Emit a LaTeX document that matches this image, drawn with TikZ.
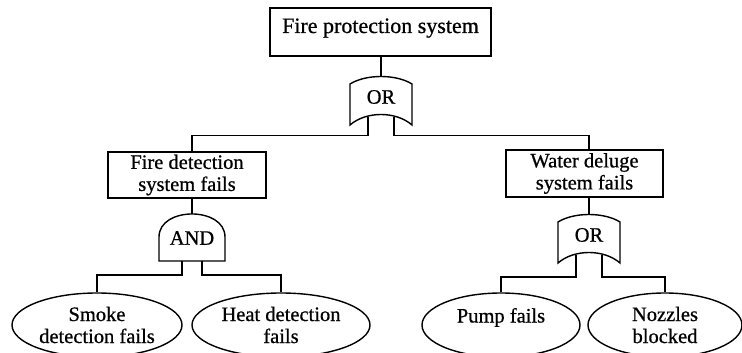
\documentclass[tikz,border=0pt]{standalone}
\usepackage{fontspec}
\setmainfont{Liberation Serif}[FakeBold=0.7]
\usetikzlibrary{shapes.geometric}

\begin{document}
\begin{tikzpicture}[x=1pt,y=-1pt,line width=1.4pt,
  every node/.style={font=\fontsize{20.5}{22}\selectfont},
  box/.style={draw,rectangle,align=center,inner sep=0pt},
  event/.style={draw,ellipse,align=center,inner sep=0pt,minimum height=64pt},
  pics/orgate/.style={code={
    \draw (-31,8) .. controls (-15,-2) and (15,-2) .. (31,8) -- (31,49)
      .. controls (15,35) and (-15,35) .. (-31,49) -- cycle;
    \node (-txt) at (0,21) {OR};
    \coordinate (-in) at (0,0);
    \coordinate (-l) at (-13,40.5);
    \coordinate (-r) at (13,40.5);
  }},
  pics/andgate/.style={code={
    \draw (-33,47) -- (-33,23) .. controls (-33,-7.7) and (33,-7.7) .. (33,23)
      -- (33,47) -- cycle;
    \node (-txt) at (0,24) {AND};
    \coordinate (-in) at (0,0);
    \coordinate (-l) at (-10,47);
    \coordinate (-r) at (10,47);
  }}]
\useasboundingbox (0,0) rectangle (742,353);

% top event
\node[box,minimum width=221pt,minimum height=48pt,text height=15pt,text depth=13pt,
  font=\fontsize{22}{24}\selectfont] (top) at (380.5,32) {Fire protection system};
\pic (g1) at (381,76) {orgate};

% second level
\node[box,minimum width=158pt,minimum height=46pt] (det) at (187,175) {Fire detection\\system fails};
\node[box,minimum width=157pt,minimum height=47pt] (wat) at (584.5,173.5) {Water deluge\\system fails};
\pic (g3) at (192,214) {andgate};
\pic (g2) at (589,214) {orgate};

% basic events
\node[event,minimum width=170pt] (smk) at (97,325) {Smoke\\detection fails};
\node[event,minimum width=178pt] (heat) at (281,325) {Heat detection\\fails};
\node[event,minimum width=158pt,text height=15pt,text depth=20pt] (pump) at (501,325) {Pump fails};
\node[event,minimum width=154pt] (noz) at (665,325) {Nozzles\\blocked};

% connectors
\draw (g1-in) -- (g1-in |- top.south);
\draw (g1-l) -- ++(0,19) -| (g3-in |- det.north);
\draw (g1-r) -- ++(0,19) -| (g2-in |- wat.north);
\draw (g3-in) -- (g3-in |- det.south);
\draw (g2-in) -- (g2-in |- wat.south);
\draw (g3-l) -- ++(0,14) -| (smk.north);
\draw (g3-r) -- ++(0,14) -| (heat.north);
\draw (g2-l) -- ++(0,22.5) -| (pump.north);
\draw (g2-r) -- ++(0,22.5) -| (noz.north);
\end{tikzpicture}
\end{document}
